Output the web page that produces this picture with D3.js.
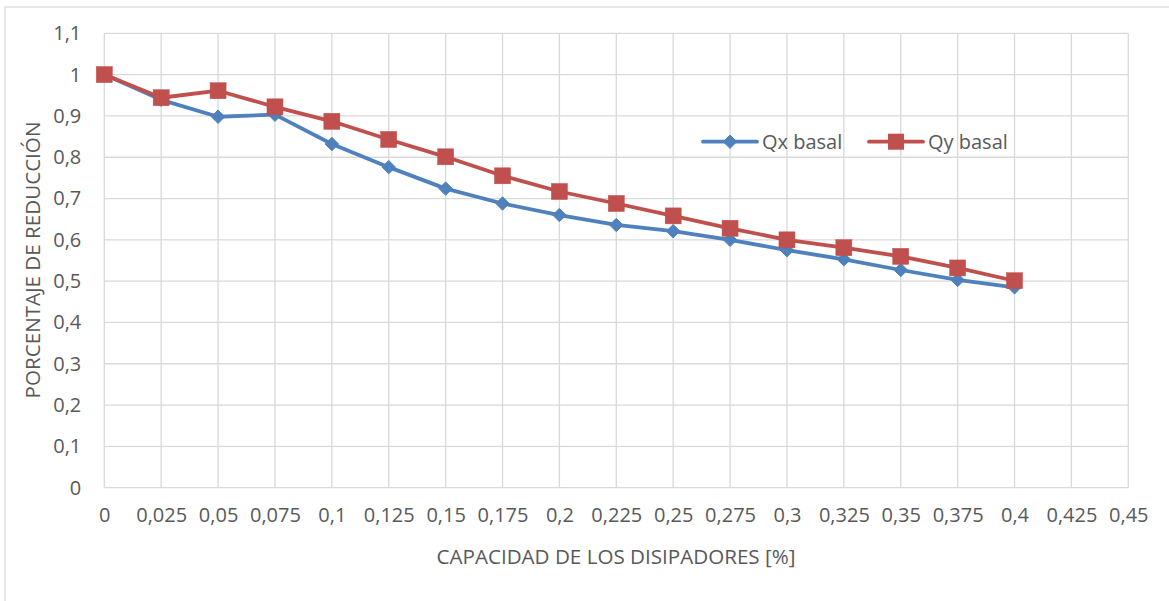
<!DOCTYPE html>
<html><head><meta charset="utf-8">
<script src="https://cdn.jsdelivr.net/npm/d3@7"></script>
<style>
html,body{margin:0;padding:0;background:#fff;}
text{font-family:"Open Sans",sans-serif;fill:#595959;}
</style></head>
<body><svg id="c" width="1169" height="601"></svg>
<script>
const capacidad = [0,0.025,0.05,0.075,0.1,0.125,0.15,0.175,0.2,0.225,0.25,0.275,0.3,0.325,0.35,0.375,0.4];
const qxBasal = [1.0,0.939,0.898,0.903,0.832,0.776,0.724,0.688,0.660,0.636,0.621,0.600,0.575,0.553,0.527,0.503,0.485];
const qyBasal = [1.0,0.944,0.961,0.922,0.887,0.843,0.801,0.755,0.717,0.688,0.658,0.628,0.600,0.581,0.560,0.532,0.501];
const xTicks = [0,0.025,0.05,0.075,0.1,0.125,0.15,0.175,0.2,0.225,0.25,0.275,0.3,0.325,0.35,0.375,0.4,0.425,0.45];
const xTickLabels = ["0","0,025","0,05","0,075","0,1","0,125","0,15","0,175","0,2","0,225","0,25","0,275","0,3","0,325","0,35","0,375","0,4","0,425","0,45"];
const yTicks = [0,0.1,0.2,0.3,0.4,0.5,0.6,0.7,0.8,0.9,1.0,1.1];
const yTickLabels = ["0","0,1","0,2","0,3","0,4","0,5","0,6","0,7","0,8","0,9","1","1,1"];
const seriesNames = ["Qx basal","Qy basal"];
const colors = ["#4f81bd","#c0504d"];

const svg = d3.select("#c");
// outer chart frame (cropped on right/bottom)
svg.append("rect").attr("x",5).attr("y",7).attr("width",1200).attr("height",700)
  .attr("fill","#fff").attr("stroke","#d9d9d9").attr("stroke-width",1.25);

const x = d3.scaleLinear().domain([0,0.45]).range([104.3,1128.3]);
const y = d3.scaleLinear().domain([0,1.1]).range([487.7,33.3]);

// gridlines
const g = svg.append("g");
g.selectAll(".vg").data(xTicks).join("line")
  .attr("x1",d=>x(d)).attr("x2",d=>x(d)).attr("y1",y(0)).attr("y2",y(1.1))
  .attr("stroke","#d9d9d9").attr("stroke-width",1.3);
g.selectAll(".hg").data(yTicks).join("line")
  .attr("x1",x(0)).attr("x2",x(0.45)).attr("y1",d=>y(d)).attr("y2",d=>y(d))
  .attr("stroke","#d9d9d9").attr("stroke-width",1.3);

// axes
const xa = svg.append("g").attr("transform",`translate(0,${y(0)})`)
  .call(d3.axisBottom(x).tickValues(xTicks).tickFormat((d,i)=>xTickLabels[i]).tickSize(0).tickPadding(20));
xa.select(".domain").remove();
xa.selectAll("text").attr("font-size",20).style("font-family","'Open Sans',sans-serif").attr("fill","#595959");
const ya = svg.append("g").attr("transform",`translate(${x(0)},0)`)
  .call(d3.axisLeft(y).tickValues(yTicks).tickFormat((d,i)=>yTickLabels[i]).tickSize(0).tickPadding(23));
ya.select(".domain").remove();
ya.selectAll("text").attr("font-size",20).style("font-family","'Open Sans',sans-serif").attr("fill","#595959");

// axis titles
svg.append("text").attr("x",616).attr("y",564).attr("text-anchor","middle").attr("font-size",20.6)
  .text("CAPACIDAD DE LOS DISIPADORES [%]");
svg.append("text").attr("transform","translate(40,260) rotate(-90)").attr("text-anchor","middle").attr("font-size",20.6)
  .text("PORCENTAJE DE REDUCCIÓN");

const line = d3.line().x((d,i)=>x(capacidad[i])).y(d=>y(d));
const diamond = d3.symbol().type(d3.symbolDiamond2).size(115);

function drawSeries(vals, color, kind){
  svg.append("path").datum(vals).attr("d",line).attr("fill","none")
    .attr("stroke",color).attr("stroke-width",3.8).attr("stroke-linejoin","round").attr("stroke-linecap","round");
  if(kind==="diamond"){
    svg.append("g").selectAll("path").data(vals).join("path")
      .attr("d",diamond).attr("transform",(d,i)=>`translate(${x(capacidad[i])},${y(d)})`)
      .attr("fill",color).attr("stroke",color).attr("stroke-width",1);
  } else {
    svg.append("g").selectAll("rect").data(vals).join("rect")
      .attr("x",(d,i)=>x(capacidad[i])-8).attr("y",d=>y(d)-8).attr("width",16).attr("height",16)
      .attr("fill",color).attr("stroke",color).attr("stroke-width",0.5);
  }
}
drawSeries(qxBasal, colors[0], "diamond");
drawSeries(qyBasal, colors[1], "square");

// legend
const legendItems = [{x1:703,x2:757,tx:762,kind:"diamond"},{x1:869,x2:923,tx:928,kind:"square"}];
const ly = 141.7;
legendItems.forEach((it,k)=>{
  svg.append("line").attr("x1",it.x1).attr("x2",it.x2).attr("y1",ly).attr("y2",ly)
    .attr("stroke",colors[k]).attr("stroke-width",3.8).attr("stroke-linecap","round");
  const cx=(it.x1+it.x2)/2;
  if(it.kind==="diamond"){
    svg.append("path").attr("d",diamond).attr("transform",`translate(${cx},${ly})`).attr("fill",colors[k]).attr("stroke",colors[k]).attr("stroke-width",1);
  } else {
    svg.append("rect").attr("x",cx-8).attr("y",ly-8).attr("width",16).attr("height",16).attr("fill",colors[k]);
  }
  svg.append("text").attr("x",it.tx).attr("y",ly).attr("dy","0.35em").attr("font-size",20).text(seriesNames[k]);
});
</script></body></html>
